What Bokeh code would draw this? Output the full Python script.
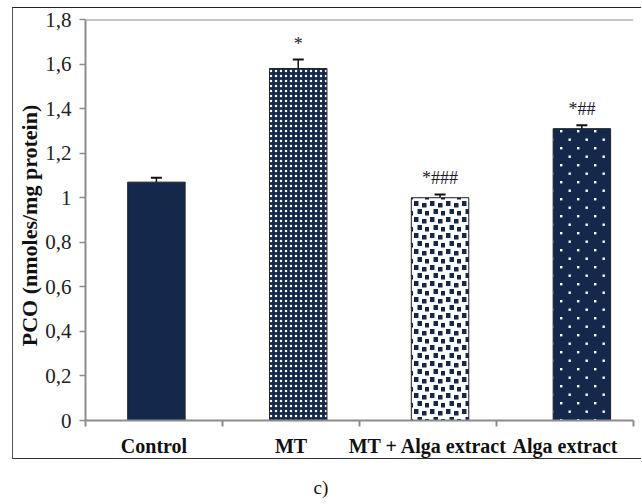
import base64
import numpy as np
from bokeh.plotting import figure
from bokeh.layouts import column
from bokeh.models import (ColumnDataSource, Range1d, FixedTicker, Whisker, Span,
                          TeeHead, Div, ImageURLTexture)
from bokeh.core.properties import value
from bokeh.embed import file_html
from bokeh.resources import INLINE

# ---- data ----
categories = ["Control", "MT", "MT + Alga extract", "Alga extract"]
pco_means = [1.07, 1.58, 1.00, 1.31]
pco_errors = [0.02, 0.04, 0.015, 0.015]
sig_labels = ["", "*", "*###", "*##"]
y_ticks = [0, 0.2, 0.4, 0.6, 0.8, 1.0, 1.2, 1.4, 1.6, 1.8]
y_tick_labels = ["0", "0,2", "0,4", "0,6", "0,8", "1", "1,2", "1,4", "1,6", "1,8"]
y_label = "PCO  (nmoles/mg  protein)"
caption = "c)"

n = len(categories)
centers = np.arange(n) + 0.5
means = np.array(pco_means)
errs = np.array(pco_errors)
upper = means + errs

NAVY = "#14284b"
AXIS_GRAY = "#8c8c8c"
SERIF = "Liberation Serif"


def svg_texture(svg):
    data = base64.b64encode(svg.encode()).decode()
    return ImageURLTexture(url="data:image/svg+xml;base64," + data)


tex_squares = svg_texture(
    '<svg xmlns="http://www.w3.org/2000/svg" width="16" height="16">'
    '<rect x="1" y="1" width="4.5" height="5" fill="#14284b"/>'
    '<rect x="9" y="3" width="4.5" height="4.5" fill="#14284b"/>'
    '<rect x="4.5" y="9" width="4.5" height="5" fill="#14284b"/>'
    '<rect x="12" y="11" width="4" height="4.5" fill="#14284b"/>'
    '</svg>')
tex_sparse = svg_texture(
    '<svg xmlns="http://www.w3.org/2000/svg" width="17" height="17">'
    '<rect x="3" y="3" width="2.4" height="2.4" fill="#ffffff"/>'
    '<rect x="11.5" y="11.5" width="2.4" height="2.4" fill="#ffffff"/>'
    '</svg>')
textures = {"squares": tex_squares, "sparse": tex_sparse}

bar_styles = [
    dict(fill_color=NAVY, pattern=None, scale=12),
    dict(fill_color=NAVY, pattern="dot", scale=5),
    dict(fill_color="#ffffff", pattern="squares", scale=16),
    dict(fill_color=NAVY, pattern="sparse", scale=17),
]

p = figure(width=629, height=452, x_range=Range1d(0, n), y_range=Range1d(0, 1.8),
           output_backend="svg", toolbar_location=None,
           min_border_left=72, min_border_right=9, min_border_top=11, min_border_bottom=40)
p.margin = (7, 0, 0, 12)
p.styles = {"border-top": "1.5px solid #222222",
            "border-left": "1.5px solid #555555",
            "border-bottom": "1.5px solid #333333"}
p.xgrid.grid_line_color = None
p.ygrid.grid_line_color = None
p.outline_line_color = None

# bars sit on their own (slightly wider-spaced) category scale, as in the original
p.extra_x_ranges = {"bars": Range1d(0, n * 0.966)}

for i in range(n):
    st = bar_styles[i]
    kw = dict(x=[centers[i]], top=[means[i]], width=0.405, bottom=0,
              fill_color=st["fill_color"], line_color="#222222", line_width=1,
              x_range_name="bars")
    if st["pattern"] is not None:
        kw.update(hatch_pattern=value(st["pattern"]), hatch_extra=textures,
                  hatch_scale=st["scale"], hatch_color="white", hatch_weight=1)
    p.vbar(**kw)

err_src = ColumnDataSource(dict(base=centers, lower=means, upper=upper))
p.add_layout(Whisker(source=err_src, base="base", lower="lower", upper="upper",
                     dimension="height", line_color="#111111", line_width=1.5,
                     upper_head=TeeHead(size=11, line_color="#111111", line_width=2),
                     lower_head=None, level="overlay", x_range_name="bars"))

keep = [i for i, s in enumerate(sig_labels) if s]
p.text(x=centers[keep], y=upper[keep], text=[sig_labels[i] for i in keep],
       text_align="center", text_baseline="alphabetic", y_offset=-16,
       text_font=value(SERIF), text_font_size="18px", text_color="#1a1a2e",
       x_range_name="bars")

# x axis
xa = p.xaxis[0]
xa.ticker = FixedTicker(ticks=list(centers), minor_ticks=list(range(n + 1)))
xa.major_label_overrides = {float(c): cat for c, cat in zip(centers, categories)}
xa.axis_line_color = AXIS_GRAY
xa.axis_line_width = 2
xa.major_tick_out = 0
xa.major_tick_in = 0
xa.major_tick_line_color = None
xa.minor_tick_out = 6
xa.minor_tick_in = 0
xa.minor_tick_line_color = AXIS_GRAY
xa.minor_tick_line_width = 2
xa.major_label_standoff = 8
xa.major_label_text_font = SERIF
xa.major_label_text_font_style = "bold"
xa.major_label_text_font_size = "20px"
xa.major_label_text_color = "#111111"

# y axis
ya = p.yaxis[0]
ya.ticker = FixedTicker(ticks=y_ticks)
ya.major_label_overrides = {float(t): s for t, s in zip(y_ticks, y_tick_labels)}
ya.axis_line_color = AXIS_GRAY
ya.axis_line_width = 2
ya.major_tick_out = 6
ya.major_tick_in = 0
ya.major_tick_line_color = AXIS_GRAY
ya.major_tick_line_width = 1.5
ya.minor_tick_line_color = None
ya.major_label_standoff = 8
ya.major_label_text_font = SERIF
ya.major_label_text_font_size = "21px"
ya.major_label_text_color = "#222222"
ya.axis_label = y_label
ya.axis_label_standoff = 0
ya.axis_label_text_font = SERIF
ya.axis_label_text_font_style = "bold"
ya.axis_label_text_font_size = "22px"
ya.axis_label_text_color = "#111111"

# top edge of the plot area
p.add_layout(Span(location=p.y_range.end, dimension="width",
                  line_color=AXIS_GRAY, line_width=2))

cap = Div(text=caption, width=642, height=43, margin=(0, 0, 0, 0),
          styles={"text-align": "center", "font-family": SERIF,
                  "font-size": "19px", "color": "#111111", "padding-top": "15px"})

root = column(p, cap, margin=(0, 0, 0, 0))
open("out.html", "w").write(file_html(root, INLINE))
